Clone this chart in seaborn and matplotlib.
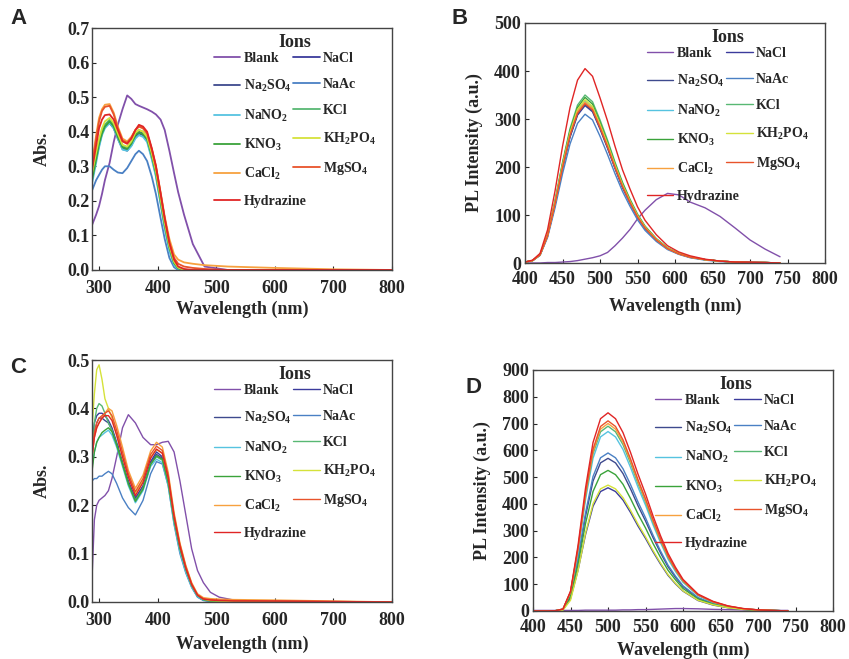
import numpy as np
import pandas as pd
import matplotlib
matplotlib.use("Agg")
import matplotlib.pyplot as plt
import seaborn as sns
from matplotlib.ticker import FormatStrFormatter

ions = ['Blank', 'NaCl', 'Na2SO4', 'NaAc', 'NaNO2', 'KCl', 'KNO3', 'KH2PO4', 'CaCl2', 'MgSO4', 'Hydrazine']
ion_labels = ['Blank', 'NaCl', 'Na$_2$SO$_4$', 'NaAc', 'NaNO$_2$', 'KCl', 'KNO$_3$',
              'KH$_2$PO$_4$', 'CaCl$_2$', 'MgSO$_4$', 'Hydrazine']
colors = ['#8150aa', '#3b3b9c', '#3e4a8e', '#4a80c4', '#56c3e0', '#58b873',
          '#3aa33a', '#d5e23a', '#f7a13f', '#e8532b', '#e02525']

# ---- panel A: absorbance ----
wl_a = [288, 295, 300, 305, 310, 318, 325, 332, 340, 348, 355, 362, 368, 375, 382,
        390, 397, 405, 412, 420, 428, 435, 445, 460, 480, 520, 600, 700, 800]
abs_a = {
    'Blank':     [0.13, 0.16, 0.185, 0.22, 0.26, 0.31, 0.37, 0.42, 0.465, 0.505, 0.495, 0.48, 0.475, 0.47, 0.465, 0.458, 0.45, 0.435, 0.405, 0.345, 0.28, 0.225, 0.16, 0.075, 0.01, 0, 0, 0, 0],
    'NaCl':      [0.27, 0.33, 0.37, 0.40, 0.42, 0.43, 0.415, 0.385, 0.355, 0.35, 0.365, 0.39, 0.40, 0.395, 0.38, 0.33, 0.28, 0.20, 0.13, 0.065, 0.02, 0.005, 0, 0, 0, 0, 0, 0, 0],
    'Na2SO4':    [0.26, 0.32, 0.36, 0.395, 0.415, 0.425, 0.41, 0.38, 0.35, 0.345, 0.36, 0.385, 0.395, 0.39, 0.375, 0.325, 0.275, 0.195, 0.125, 0.06, 0.018, 0.004, 0, 0, 0, 0, 0, 0, 0],
    'NaAc':      [0.23, 0.26, 0.275, 0.29, 0.30, 0.30, 0.29, 0.282, 0.28, 0.295, 0.315, 0.335, 0.345, 0.335, 0.315, 0.27, 0.22, 0.15, 0.09, 0.035, 0.008, 0, 0, 0, 0, 0, 0, 0, 0],
    'NaNO2':     [0.25, 0.31, 0.355, 0.39, 0.41, 0.425, 0.41, 0.38, 0.348, 0.345, 0.358, 0.38, 0.39, 0.385, 0.37, 0.32, 0.27, 0.19, 0.12, 0.055, 0.015, 0.003, 0, 0, 0, 0, 0, 0, 0],
    'KCl':       [0.27, 0.33, 0.37, 0.40, 0.42, 0.435, 0.42, 0.39, 0.36, 0.355, 0.37, 0.395, 0.405, 0.40, 0.385, 0.335, 0.285, 0.205, 0.135, 0.068, 0.022, 0.006, 0, 0, 0, 0, 0, 0, 0],
    'KNO3':      [0.26, 0.32, 0.365, 0.395, 0.415, 0.43, 0.415, 0.385, 0.355, 0.35, 0.365, 0.39, 0.398, 0.393, 0.378, 0.33, 0.28, 0.20, 0.13, 0.065, 0.02, 0.005, 0, 0, 0, 0, 0, 0, 0],
    'KH2PO4':    [0.28, 0.34, 0.38, 0.41, 0.43, 0.44, 0.425, 0.395, 0.362, 0.357, 0.372, 0.397, 0.405, 0.40, 0.385, 0.337, 0.287, 0.207, 0.137, 0.07, 0.024, 0.007, 0, 0, 0, 0, 0, 0, 0],
    'CaCl2':     [0.31, 0.39, 0.44, 0.465, 0.478, 0.48, 0.455, 0.415, 0.38, 0.372, 0.385, 0.405, 0.415, 0.41, 0.395, 0.35, 0.30, 0.225, 0.155, 0.09, 0.045, 0.03, 0.022, 0.018, 0.014, 0.01, 0.006, 0.002, 0],
    'MgSO4':     [0.30, 0.38, 0.43, 0.46, 0.472, 0.475, 0.45, 0.41, 0.375, 0.368, 0.382, 0.405, 0.415, 0.41, 0.395, 0.348, 0.298, 0.22, 0.15, 0.08, 0.035, 0.018, 0.01, 0.006, 0.003, 0, 0, 0, 0],
    'Hydrazine': [0.29, 0.36, 0.41, 0.435, 0.448, 0.45, 0.435, 0.405, 0.372, 0.365, 0.38, 0.405, 0.42, 0.415, 0.40, 0.352, 0.302, 0.222, 0.15, 0.078, 0.03, 0.01, 0.003, 0, 0, 0, 0, 0, 0],
}

# ---- panel B: PL ----
wl_b = [400, 410, 420, 430, 440, 450, 460, 470, 480, 490, 500, 510, 520, 530, 540,
        550, 560, 575, 590, 605, 620, 640, 660, 680, 700, 720, 740]
pl_b = {
    'Blank':     [0, 0, 0, 1, 1, 2, 3, 5, 8, 11, 15, 22, 36, 52, 70, 92, 110, 132, 145, 142, 127, 115, 97, 73, 48, 29, 13],
    'NaCl':      [2, 5, 16, 56, 121, 197, 262, 308, 328, 315, 279, 239, 197, 157, 125, 95, 72, 48, 30, 19, 12, 7, 4, 2, 1, 1, 0],
    'Na2SO4':    [2, 5, 17, 56, 122, 198, 264, 310, 330, 317, 281, 241, 198, 158, 125, 96, 73, 48, 30, 19, 12, 7, 4, 2, 1, 1, 0],
    'NaAc':      [2, 5, 16, 53, 115, 186, 248, 291, 310, 298, 264, 226, 186, 149, 118, 90, 68, 45, 28, 18, 11, 6, 3, 2, 1, 1, 0],
    'NaNO2':     [2, 5, 17, 57, 125, 203, 270, 318, 338, 324, 287, 247, 203, 162, 128, 98, 74, 49, 30, 20, 12, 7, 4, 2, 1, 1, 0],
    'KCl':       [2, 5, 18, 60, 130, 210, 280, 329, 350, 336, 298, 256, 210, 168, 133, 102, 77, 51, 32, 20, 13, 7, 4, 2, 1, 1, 0],
    'KNO3':      [2, 5, 17, 59, 128, 207, 276, 324, 345, 331, 293, 252, 207, 166, 131, 100, 76, 50, 31, 20, 13, 7, 4, 2, 1, 1, 0],
    'KH2PO4':    [2, 5, 17, 58, 126, 204, 272, 320, 340, 326, 289, 248, 204, 163, 129, 99, 75, 49, 31, 20, 13, 7, 4, 2, 1, 1, 0],
    'CaCl2':     [2, 5, 17, 57, 124, 201, 268, 315, 335, 322, 285, 245, 201, 161, 127, 97, 74, 49, 30, 19, 12, 7, 4, 2, 1, 1, 0],
    'MgSO4':     [2, 5, 17, 56, 123, 199, 266, 312, 332, 319, 282, 242, 199, 159, 126, 96, 73, 48, 30, 19, 12, 7, 4, 2, 1, 1, 0],
    'Hydrazine': [2, 6, 20, 69, 150, 243, 324, 381, 405, 389, 344, 296, 243, 194, 154, 117, 89, 59, 36, 23, 15, 8, 4, 2, 2, 1, 0],
}

# ---- panel C: absorbance ----
wl_c = [288, 292, 296, 300, 305, 310, 316, 322, 330, 340, 350, 362, 375, 388, 398,
        408, 418, 428, 438, 448, 458, 468, 478, 490, 505, 530, 600, 700, 800]
abs_c = {
    'Blank':     [0.05, 0.17, 0.20, 0.21, 0.215, 0.22, 0.23, 0.255, 0.30, 0.36, 0.387, 0.37, 0.34, 0.325, 0.325, 0.33, 0.332, 0.31, 0.25, 0.18, 0.11, 0.065, 0.04, 0.02, 0.01, 0.004, 0, 0, 0],
    'NaCl':      [0.33, 0.37, 0.385, 0.39, 0.39, 0.385, 0.375, 0.36, 0.33, 0.29, 0.25, 0.215, 0.24, 0.29, 0.31, 0.30, 0.25, 0.17, 0.11, 0.068, 0.034, 0.012, 0.004, 0.002, 0.001, 0, 0, 0, 0],
    'Na2SO4':    [0.30, 0.35, 0.37, 0.38, 0.38, 0.375, 0.37, 0.355, 0.325, 0.285, 0.245, 0.213, 0.238, 0.287, 0.305, 0.297, 0.247, 0.168, 0.108, 0.066, 0.033, 0.011, 0.004, 0.002, 0.001, 0, 0, 0, 0],
    'NaAc':      [0.25, 0.255, 0.255, 0.26, 0.26, 0.265, 0.27, 0.265, 0.245, 0.215, 0.195, 0.18, 0.21, 0.265, 0.29, 0.285, 0.24, 0.16, 0.10, 0.06, 0.03, 0.01, 0.003, 0.001, 0, 0, 0, 0, 0],
    'NaNO2':     [0.28, 0.31, 0.33, 0.34, 0.345, 0.35, 0.355, 0.345, 0.32, 0.28, 0.24, 0.205, 0.23, 0.28, 0.295, 0.288, 0.24, 0.163, 0.104, 0.062, 0.031, 0.011, 0.004, 0.002, 0.001, 0, 0, 0, 0],
    'KCl':       [0.30, 0.37, 0.40, 0.41, 0.405, 0.39, 0.37, 0.355, 0.325, 0.285, 0.243, 0.21, 0.235, 0.285, 0.30, 0.293, 0.245, 0.168, 0.109, 0.067, 0.034, 0.013, 0.005, 0.002, 0.001, 0, 0, 0, 0],
    'KNO3':      [0.27, 0.31, 0.33, 0.34, 0.35, 0.355, 0.36, 0.352, 0.325, 0.285, 0.245, 0.208, 0.233, 0.284, 0.302, 0.295, 0.248, 0.171, 0.112, 0.069, 0.035, 0.014, 0.005, 0.002, 0.001, 0, 0, 0, 0],
    'KH2PO4':    [0.36, 0.43, 0.48, 0.49, 0.46, 0.42, 0.40, 0.38, 0.345, 0.30, 0.26, 0.225, 0.25, 0.30, 0.315, 0.308, 0.258, 0.178, 0.118, 0.073, 0.037, 0.015, 0.006, 0.003, 0.002, 0.001, 0, 0, 0],
    'CaCl2':     [0.30, 0.34, 0.36, 0.37, 0.38, 0.39, 0.40, 0.395, 0.365, 0.32, 0.272, 0.235, 0.262, 0.312, 0.33, 0.32, 0.268, 0.185, 0.122, 0.076, 0.04, 0.017, 0.009, 0.007, 0.006, 0.005, 0.004, 0.002, 0],
    'MgSO4':     [0.31, 0.35, 0.37, 0.38, 0.385, 0.39, 0.395, 0.385, 0.355, 0.31, 0.265, 0.228, 0.255, 0.305, 0.322, 0.313, 0.262, 0.18, 0.119, 0.073, 0.038, 0.015, 0.007, 0.005, 0.004, 0.003, 0.002, 0.001, 0],
    'Hydrazine': [0.30, 0.34, 0.36, 0.37, 0.38, 0.385, 0.385, 0.375, 0.345, 0.30, 0.258, 0.22, 0.247, 0.297, 0.316, 0.307, 0.256, 0.176, 0.115, 0.07, 0.036, 0.014, 0.006, 0.004, 0.003, 0.002, 0.002, 0.001, 0],
}

# ---- panel D: PL ----
wl_d = [400, 420, 430, 440, 450, 460, 470, 480, 490, 500, 510, 520, 530, 540, 550,
        560, 570, 580, 590, 600, 620, 640, 660, 680, 700, 720, 740]
pl_d = {
    'Blank':     [2, 2, 2, 2, 2, 2, 3, 3, 3, 3, 3, 4, 4, 5, 5, 6, 7, 8, 9, 9, 8, 6, 5, 4, 3, 2, 2],
    'NaCl':      [0, 0, 1, 5, 46, 152, 285, 391, 446, 460, 446, 414, 368, 317, 271, 221, 175, 133, 101, 74, 39, 22, 12, 6, 3, 1, 0],
    'Na2SO4':    [0, 0, 1, 6, 57, 188, 353, 485, 553, 570, 553, 513, 456, 393, 336, 274, 217, 165, 125, 91, 48, 27, 14, 7, 3, 2, 0],
    'NaAc':      [0, 0, 1, 6, 59, 195, 366, 502, 572, 590, 572, 531, 472, 407, 348, 283, 224, 171, 130, 94, 50, 28, 15, 7, 4, 2, 0],
    'NaNO2':     [0, 0, 1, 7, 67, 221, 415, 570, 650, 670, 650, 603, 536, 462, 395, 322, 255, 194, 147, 107, 57, 32, 17, 8, 4, 2, 0],
    'KCl':       [0, 0, 1, 7, 69, 228, 428, 587, 669, 690, 669, 621, 552, 476, 407, 331, 262, 200, 152, 110, 59, 33, 17, 8, 4, 2, 0],
    'KNO3':      [0, 0, 1, 5, 53, 173, 326, 446, 509, 525, 509, 473, 420, 362, 310, 252, 200, 152, 116, 84, 45, 25, 13, 6, 3, 2, 0],
    'KH2PO4':    [0, 0, 0, 3, 40, 150, 290, 400, 456, 470, 456, 423, 376, 324, 277, 226, 179, 136, 103, 75, 40, 23, 12, 6, 3, 1, 0],
    'CaCl2':     [0, 0, 1, 7, 70, 231, 434, 595, 679, 700, 679, 630, 560, 483, 413, 336, 266, 203, 154, 112, 60, 34, 18, 8, 4, 2, 0],
    'MgSO4':     [0, 0, 1, 7, 71, 234, 440, 604, 689, 710, 689, 639, 568, 490, 419, 341, 270, 206, 156, 114, 60, 34, 18, 9, 4, 2, 0],
    'Hydrazine': [0, 0, 1, 7, 74, 244, 459, 629, 718, 740, 718, 666, 592, 511, 437, 355, 281, 215, 163, 118, 63, 36, 19, 9, 4, 2, 0],
}

sns.set_style('ticks')
plt.rcParams['font.family'] = ['Liberation Serif', 'DejaVu Serif']
plt.rcParams['font.weight'] = 'bold'
plt.rcParams['mathtext.default'] = 'regular'


def long_df(wl, series):
    rows = []
    for ion in ions:
        for x, v in zip(wl, series[ion]):
            rows.append({'wl': x, 'val': v, 'ion': ion})
    return pd.DataFrame(rows)


fig = plt.figure(figsize=(8.49, 6.59), dpi=100)
# letter, rect, x, data, xlim, ylim, xticks, yticks, ylabel, linewidth, letter pos, xtick pad, ytick pad, xlabel pad, ylabel pad
panels = [
    ('A', [0.1084, 0.5903, 0.3534, 0.3672], wl_a, abs_a, (288, 800), (0, 0.7), np.arange(300, 801, 100), np.arange(0, 0.71, 0.1), 'Abs.', 1.3, (0.012, 0.988), 7, 1.5, 3, 12),
    ('B', [0.6184, 0.6009, 0.3534, 0.3642], wl_b, pl_b, (400, 800), (0, 500), np.arange(400, 801, 50), np.arange(0, 501, 100), 'PL Intensity (a.u.)', 1.0, (0.532, 0.988), 6, 3, 7, 8),
    ('C', [0.1084, 0.0865, 0.3534, 0.3672], wl_c, abs_c, (288, 800), (0, 0.5), np.arange(300, 801, 100), np.arange(0, 0.51, 0.1), 'Abs.', 1.0, (0.012, 0.459), 7, 1.5, 5, 12),
    ('D', [0.6278, 0.0729, 0.3534, 0.3657], wl_d, pl_d, (400, 800), (0, 900), np.arange(400, 801, 50), np.arange(0, 901, 100), 'PL Intensity (a.u.)', 1.0, (0.548, 0.428), 6, 3, 4, 8),
]

pal = dict(zip(ions, colors))
# first ten entries go row by row in two columns; Hydrazine sits alone below
order = [0, 2, 4, 6, 8, 1, 3, 5, 7, 9]
leg_fs = 10
leg_kw = dict(frameon=False, fontsize=leg_fs, handlelength=1.9, handletextpad=0.25,
              borderpad=0.4, borderaxespad=0.0)
fs_px = leg_fs * 100 / 72

for letter, rect, wl, series, xl, yl, xt, yt, ylab, lw, lpos, xpad, ypad, xlpad, ylpad in panels:
    ax = fig.add_axes(rect)
    df = long_df(wl, series)
    sns.lineplot(data=df, x='wl', y='val', hue='ion', hue_order=ions, palette=pal,
                 linewidth=lw, ax=ax, legend=True)
    ax.set_xlim(*xl)
    ax.set_ylim(*yl)
    ax.set_xticks(xt)
    ax.set_yticks(yt)
    if yl[1] < 1:
        ax.yaxis.set_major_formatter(FormatStrFormatter('%.1f'))
    ax.tick_params(direction='in', length=3, width=0.8, labelsize=13)
    ax.tick_params(axis='x', pad=xpad)
    ax.tick_params(axis='y', pad=ypad)
    for lab in ax.get_xticklabels() + ax.get_yticklabels():
        lab.set_fontweight('bold')
    ax.set_xlabel('Wavelength (nm)', fontsize=13, fontweight='bold', labelpad=xlpad)
    ax.set_ylabel(ylab, fontsize=13, fontweight='bold', labelpad=ylpad)
    for sp in ax.spines.values():
        sp.set_color('#444444')
        sp.set_linewidth(1.0)

    h, _ = ax.get_legend_handles_labels()
    leg1 = ax.legend([h[i] for i in order], [ion_labels[i] for i in order], ncol=2,
                     loc='upper right', bbox_to_anchor=(0.965, 1.0), title='Ions',
                     columnspacing=0.15, labelspacing=0.95, **leg_kw)
    leg1.get_title().set_fontsize(13)
    leg1.get_title().set_fontweight('bold')
    leg1._legend_box.sep = 1
    ax.add_artist(leg1)
    fig.canvas.draw()
    bb = leg1.get_window_extent().transformed(ax.transAxes.inverted())
    dy = (2 * 0.4 - 0.95) * fs_px / (rect[3] * 659)
    ax.legend([h[10]], [ion_labels[10]], loc='upper left',
              bbox_to_anchor=(bb.x0, bb.y0 + dy), **leg_kw)

    fig.text(lpos[0], lpos[1], letter, fontsize=16, fontweight='bold',
             family='Liberation Sans', ha='left', va='top')

fig.savefig('out.png', dpi=100)
